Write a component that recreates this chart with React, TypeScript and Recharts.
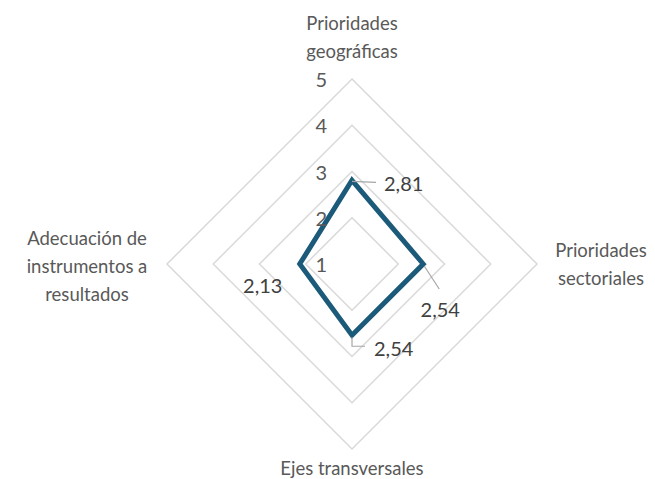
import React from 'react'
import { RadarChart, Radar, PolarGrid, PolarAngleAxis, PolarRadiusAxis } from 'recharts'

const categories = [
  'Prioridades geográficas',
  'Prioridades sectoriales',
  'Ejes transversales',
  'Adecuación de instrumentos a resultados',
]
const categoryLines = [
  ['Prioridades', 'geográficas'],
  ['Prioridades', 'sectoriales'],
  ['Ejes transversales'],
  ['Adecuación de', 'instrumentos a', 'resultados'],
]
const scores = [2.81, 2.54, 2.54, 2.13]
const radiusTicks = [1, 2, 3, 4, 5]

const data = categories.map((name, i) => ({ name, score: scores[i] }))

const FONT = 'Lato, "Open Sans", sans-serif'
const LINE = '#1c5a7a'
const GRID = '#d9d9d9'
const TEXT = '#595959'
const LABEL = '#404040'
const LEADER = '#a6a6a6'

const fmt = (v: number) => v.toFixed(2).replace('.', ',')

function AngleTick(props: any) {
  const { x, y, payload, index } = props
  const lines = categoryLines[index] || [payload.value]
  const lh = 28
  let cx = x
  let firstY = y
  if (index === 0) {
    firstY = y - 20 - (lines.length - 1) * lh
  } else if (index === 1) {
    cx = x + 56
    firstY = y - ((lines.length - 1) * lh) / 2
  } else if (index === 2) {
    firstY = y + 11
  } else {
    cx = x - 72
    firstY = y - ((lines.length - 1) * lh) / 2 + 2
  }
  return (
    <text x={cx} y={firstY} textAnchor="middle" dominantBaseline="central" fill={TEXT} fontSize={18.5} fontFamily={FONT}>
      {lines.map((l, i) => (
        <tspan key={i} x={cx} y={firstY + i * lh}>{l}</tspan>
      ))}
    </text>
  )
}

function RadiusTick(props: any) {
  const { x, y, payload } = props
  return (
    <text x={x - 25} y={y} textAnchor="end" dominantBaseline="central" fill={TEXT} fontSize={20} fontFamily={FONT}>
      {payload.value}
    </text>
  )
}

function RadarShape(props: any) {
  const { points } = props
  if (!points || !points.length) return null
  const d = points.map((p: any, i: number) => `${i === 0 ? 'M' : 'L'}${p.x},${p.y}`).join(' ') + ' Z'
  return (
    <g>
      <path d={d} fill="none" stroke={LINE} strokeWidth={5} strokeLinejoin="miter" />
      {points.map((p: any, i: number) => {
        const txt = fmt(scores[i])
        const common = { fill: LABEL, fontSize: 20, fontFamily: FONT, dominantBaseline: 'central' as const }
        if (i === 0) {
          return (
            <g key={i}>
              <path d={`M${p.x},${p.y + 1} L${p.x + 24},${p.y + 2}`} stroke={LEADER} strokeWidth={1.2} fill="none" />
              <text x={p.x + 32} y={p.y + 3} textAnchor="start" {...common}>{txt}</text>
            </g>
          )
        }
        if (i === 1) {
          return (
            <g key={i}>
              <path d={`M${p.x + 1},${p.y + 2} L${p.x + 16},${p.y + 25}`} stroke={LEADER} strokeWidth={1.2} fill="none" />
              <text x={p.x + 17} y={p.y + 45} textAnchor="middle" {...common}>{txt}</text>
            </g>
          )
        }
        if (i === 2) {
          return (
            <g key={i}>
              <path d={`M${p.x},${p.y + 2} L${p.x},${p.y + 11} L${p.x + 13},${p.y + 11}`} stroke={LEADER} strokeWidth={1.2} fill="none" />
              <text x={p.x + 22} y={p.y + 13} textAnchor="start" {...common}>{txt}</text>
            </g>
          )
        }
        return (
          <text key={i} x={p.x - 37} y={p.y + 21} textAnchor="middle" {...common}>{txt}</text>
        )
      })}
    </g>
  )
}

export default function App() {
  return (
    <div style={{ position: 'fixed', left: 0, top: 0, width: 655, height: 479, background: '#fff' }}>
      <RadarChart width={655} height={479} data={data} cx={352} cy={264} outerRadius={185} margin={{ top: 0, right: 0, bottom: 0, left: 0 }}>
        <PolarGrid gridType="polygon" radialLines={false} stroke={GRID} strokeWidth={1.5} />
        <PolarAngleAxis dataKey="name" tick={<AngleTick />} tickLine={false} axisLine={false} />
        <PolarRadiusAxis
          angle={90}
          domain={[1, 5]}
          ticks={radiusTicks}
          tickCount={5}
          axisLine={false}
          tickLine={false}
          tick={<RadiusTick />}
        />
        <Radar dataKey="score" isAnimationActive={false} shape={<RadarShape />} />
      </RadarChart>
    </div>
  )
}
